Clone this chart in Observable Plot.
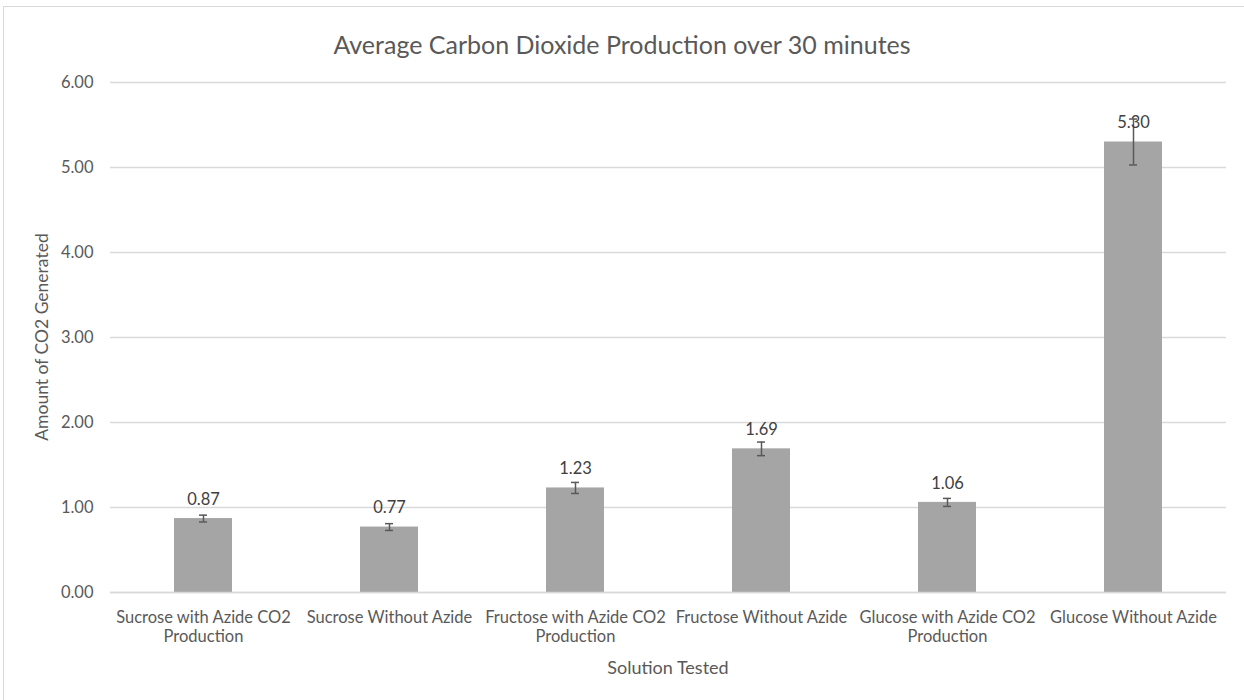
<!DOCTYPE html>
<html><head><meta charset="utf-8">
<script src="https://cdn.jsdelivr.net/npm/d3@7"></script>
<script src="https://cdn.jsdelivr.net/npm/@observablehq/plot@0.6"></script>
<style>
body{margin:0;background:#fff;font-family:Lato,"Open Sans",sans-serif;}
#wrap{position:relative;width:1244px;height:700px;overflow:hidden;background:#fff;}
#frame{position:absolute;left:3px;top:6px;width:1300px;height:760px;border:1.5px solid #d9d9d9;box-sizing:border-box;}
#title{position:absolute;top:28px;left:0;width:1244px;text-align:center;font-size:25px;color:#595959;line-height:32px;}
#ylab{position:absolute;left:42px;top:337px;width:300px;margin-left:-150px;margin-top:-11px;line-height:22px;text-align:center;font-size:17.5px;color:#595959;transform:rotate(-90deg);}
#xlab{position:absolute;left:568px;top:656px;width:200px;text-align:center;font-size:18px;color:#595959;line-height:22px;}
#chart{position:absolute;top:70px;left:0;}
</style></head>
<body>
<div id="wrap">
<div id="frame"></div>
<div id="title"></div>
<div id="ylab"></div>
<div id="xlab"></div>
<div id="chart"></div>
</div>
<script>
const titleText = "Average Carbon Dioxide Production over 30 minutes";
const yLabel = "Amount of CO2 Generated";
const xLabel = "Solution Tested";
const categories = [
  "Sucrose with Azide CO2\nProduction",
  "Sucrose Without Azide",
  "Fructose with Azide CO2\nProduction",
  "Fructose Without Azide",
  "Glucose with Azide CO2\nProduction",
  "Glucose Without Azide"
];
const values = [0.87, 0.77, 1.23, 1.69, 1.06, 5.30];
const errors = [0.04, 0.04, 0.065, 0.08, 0.047, 0.27];
const yTicks = [0, 1, 2, 3, 4, 5, 6];

document.getElementById("title").textContent = titleText;
document.getElementById("ylab").textContent = yLabel;
document.getElementById("xlab").textContent = xLabel;

const data = categories.map((c, i) => ({cat: c, v: values[i], e: errors[i]}));
const txt = "#595959";

const chart = Plot.plot({
  width: 1244,
  height: 630,
  marginTop: 12,
  marginBottom: 108,
  marginLeft: 110,
  marginRight: 18,
  style: {fontFamily: "Lato, 'Open Sans', sans-serif", fontSize: "16px", color: txt, background: "transparent"},
  x: {domain: categories, paddingInner: 0.688, paddingOuter: 0.344, label: null},
  y: {domain: [0, 6], label: null},
  marks: [
    Plot.ruleY(yTicks, {stroke: "#d9d9d9", strokeWidth: 1.5}),
    Plot.barY(data, {x: "cat", y: "v", fill: "#a5a5a5"}),
    Plot.ruleY([0], {stroke: "#d9d9d9", strokeWidth: 1.5}),
    Plot.ruleX(data, {x: "cat", y1: d => d.v - d.e, y2: d => d.v + d.e, stroke: "#595959", strokeWidth: 1.5}),
    Plot.tickY(data, {x: "cat", y: d => d.v - d.e, stroke: "#595959", strokeWidth: 1.5, insetLeft: 25, insetRight: 25}),
    Plot.tickY(data, {x: "cat", y: d => d.v + d.e, stroke: "#595959", strokeWidth: 1.5, insetLeft: 25, insetRight: 25}),
    Plot.text(data, {x: "cat", y: "v", text: d => d.v.toFixed(2), dy: -19, fill: "#404040", fontSize: 16.5}),
    Plot.axisY({ticks: yTicks, tickFormat: d3.format(".2f"), tickSize: 0, tickPadding: 17, fill: txt, fontSize: 16.5, label: null}),
    Plot.axisX({tickSize: 0, tickPadding: 16, lineHeight: 1.2, fill: txt, fontSize: 16.5, label: null})
  ]
});
document.getElementById("chart").appendChild(chart);
</script>
</body></html>
